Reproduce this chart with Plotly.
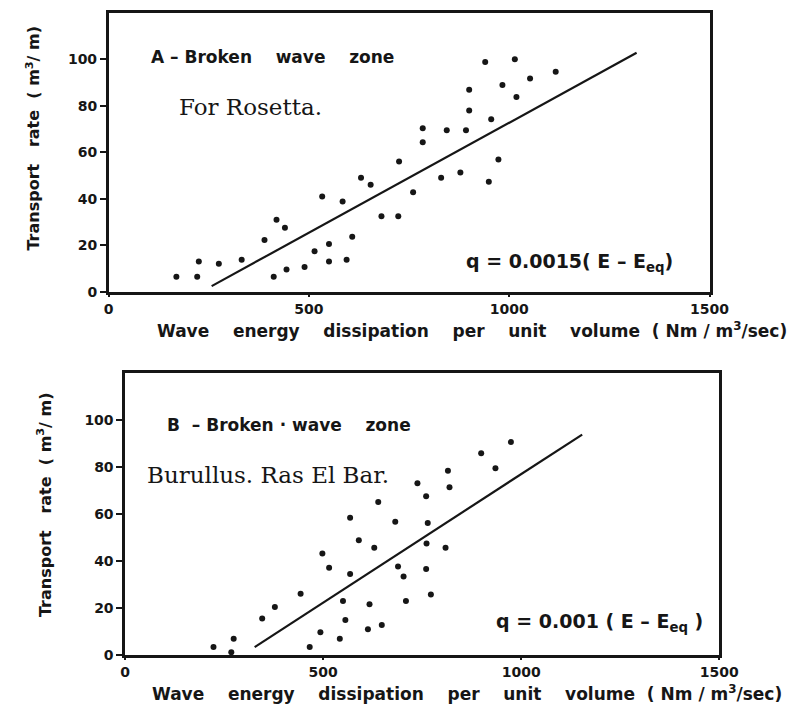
import plotly.graph_objects as go

# ---- Panel A (Rosetta) ----
a_x = [169, 221, 225, 275, 332, 389, 419, 440, 412, 444, 489, 514, 533, 550, 550,
       584, 594, 608, 630, 654, 681, 723, 725, 760, 784, 784, 830, 844, 878, 892,
       900, 900, 940, 955, 949, 973, 983, 1014, 1018, 1052, 1116]
a_y = [6.4, 6.4, 13, 12, 13.8, 22.3, 31, 27.5, 6.4, 9.6, 10.6, 17.4, 41, 20.5, 13,
       38.8, 13.8, 23.6, 49, 46, 32.5, 32.5, 56, 42.8, 64.3, 70.3, 49, 69.5, 51.3, 69.5,
       78, 86.9, 98.9, 74.2, 47.3, 56.9, 89, 100, 83.8, 91.8, 94.6]
a_line_x = [257, 1318]
a_line_y = [2.4, 102.8]

# ---- Panel B (Burullus, Ras El Bar) ----
b_x = [223, 274, 268, 346, 378, 443, 466, 493, 498, 515, 542, 550, 556, 568, 568,
       590, 613, 617, 629, 639, 648, 682, 689, 703, 709, 738, 760, 764, 761, 760,
       772, 809, 815, 819, 899, 935, 974]
b_y = [3.2, 6.7, 1.0, 15.4, 20.3, 25.9, 3.2, 9.5, 43, 37, 6.7, 22.8, 14.7, 58.3, 34.3,
       48.7, 10.8, 21.4, 45.5, 65, 12.6, 56.6, 37.5, 33.3, 22.8, 73, 67.4, 56, 47.3, 36.4,
       25.6, 45.5, 78.3, 71.3, 85.7, 79.3, 90.5]
b_line_x = [327, 1154]
b_line_y = [3.2, 93.7]

x_ticks = [0, 500, 1000, 1500]
y_ticks = [0, 20, 40, 60, 80, 100]

INK = "#161616"
SANS = "DejaVu Sans"
SERIF = "DejaVu Serif"
W, H = 808, 716

fig = go.Figure()
fig.add_trace(go.Scatter(x=a_x, y=a_y, mode="markers", xaxis="x", yaxis="y",
                         marker=dict(color=INK, size=6), cliponaxis=False, showlegend=False))
fig.add_trace(go.Scatter(x=a_line_x, y=a_line_y, mode="lines", xaxis="x", yaxis="y",
                         line=dict(color=INK, width=2.2), showlegend=False))
fig.add_trace(go.Scatter(x=b_x, y=b_y, mode="markers", xaxis="x2", yaxis="y2",
                         marker=dict(color=INK, size=6), cliponaxis=False, showlegend=False))
fig.add_trace(go.Scatter(x=b_line_x, y=b_line_y, mode="lines", xaxis="x2", yaxis="y2",
                         line=dict(color=INK, width=2.2), showlegend=False))

xtitle = ("Wave&nbsp;&nbsp;&nbsp; energy&nbsp;&nbsp;&nbsp; dissipation&nbsp;&nbsp;&nbsp; per&nbsp;&nbsp;&nbsp; "
          "unit&nbsp;&nbsp;&nbsp; volume&nbsp; (&nbsp;Nm&nbsp;/&nbsp;m<sup>3</sup>/sec)")
ytitle = "Transport&nbsp;&nbsp; rate&nbsp; (&nbsp;m<sup>3</sup>/&nbsp;m)"

tickfont = dict(family=SANS, size=14, color=INK, weight="bold")

def xax(dom, anchor):
    return dict(domain=dom, anchor=anchor, range=[0, 1500], tickvals=x_ticks,
                showline=True, mirror=True, linecolor=INK, linewidth=2.5,
                showgrid=False, zeroline=False, ticks="outside", ticklen=3, tickwidth=2,
                tickcolor=INK, tickfont=tickfont)

def yax(dom, anchor):
    return dict(domain=dom, anchor=anchor, range=[0, 120], tickvals=y_ticks,
                showline=True, mirror=True, linecolor=INK, linewidth=2.5,
                showgrid=False, zeroline=False, ticks="outside", ticklen=6, tickwidth=2,
                tickcolor=INK, tickfont=tickfont)

fig.update_layout(
    width=W, height=H, margin=dict(l=0, r=0, t=0, b=0),
    paper_bgcolor="white", plot_bgcolor="white",
    xaxis=xax([107 / W, 727 / W], "y"),
    yaxis=yax([1 - 295 / H, 1 - 13 / H], "x"),
    xaxis2=xax([124 / W, 737 / W], "y2"),
    yaxis2=yax([1 - 662 / H, 1 - 377 / H], "x2"),
)

def note(text, px, py, family, size, bold=False, xanchor="left", angle=0):
    fig.add_annotation(text=text, x=px / W, y=1 - py / H, xref="paper", yref="paper",
                       xanchor=xanchor, yanchor="middle", showarrow=False, textangle=angle,
                       font=dict(family=family, size=size, color=INK,
                                 weight="bold" if bold else "normal"))

# axis titles
note(xtitle, 482, 334, SANS, 17, True, xanchor="center")
note(xtitle, 477, 701, SANS, 17, True, xanchor="center")
note(ytitle, 29, 140, SANS, 16, True, xanchor="center", angle=-90)
note(ytitle, 41, 510, SANS, 16, True, xanchor="center", angle=-90)

# in-panel labels
note("A –&nbsp;Broken&nbsp;&nbsp;&nbsp; wave&nbsp;&nbsp;&nbsp; zone", 149, 58, SANS, 17, True)
note("For Rosetta.", 178, 108, SERIF, 23)
note("q = 0.0015( E – E<sub>eq</sub>)", 474, 265, SANS, 19, True)
note("B&nbsp; –&nbsp;Broken&nbsp;·&nbsp;wave&nbsp;&nbsp;&nbsp; zone", 165, 430, SANS, 17, True)
note("Burullus. Ras El Bar.", 144, 480, SERIF, 23)
note("q = 0.001 ( E – E<sub>eq</sub> )", 505, 630, SANS, 19, True)

fig.write_html("out.html")
